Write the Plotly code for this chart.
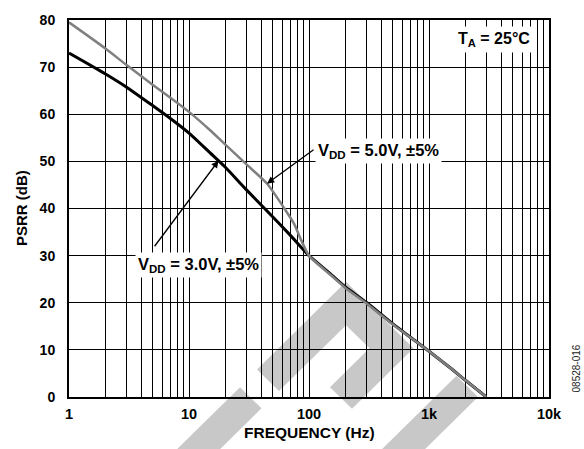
import numpy as np
import plotly.graph_objects as go

# ---------------- data ----------------
freq_3v = [1, 2, 3, 5, 7, 10, 15, 20, 30, 50, 70, 100, 150, 200, 300, 500, 1000, 1500, 2000, 3000]
psrr_3v = [73.0, 68.6, 65.8, 61.8, 59.1, 56.0, 51.8, 48.8, 44.0, 38.2, 34.3, 30.0, 26.2, 23.4, 20.1, 15.5, 9.7, 6.2, 3.6, 0.0]

freq_5v = [1, 2, 3, 5, 7, 10, 15, 20, 30, 45, 65, 75, 85, 100, 150, 200, 300, 500, 1000, 1500, 2000, 3000]
psrr_5v = [79.5, 74.0, 70.5, 66.2, 63.5, 60.5, 56.6, 53.6, 49.4, 45.2, 39.3, 36.8, 33.6, 30.0, 26.0, 23.2, 19.9, 15.4, 9.7, 6.2, 3.6, 0.0]

x_decades = [1, 10, 100, 1000, 10000]
x_decade_labels = ["1", "10", "100", "1k", "10k"]
y_ticks = [0, 10, 20, 30, 40, 50, 60, 70, 80]

label_5v = "V<sub>DD</sub> = 5.0V, ±5%"
label_3v = "V<sub>DD</sub> = 3.0V, ±5%"
label_temp = "T<sub>A</sub> = 25°C"
x_title = "FREQUENCY (Hz)"
y_title = "PSRR (dB)"
figure_id = "08528-016"
arrow_freq_5v = 44.7
arrow_freq_3v = 17.6

# ---------------- layout constants ----------------
W, H = 584, 449
L, T, PW, PH = 69, 14, 480, 383
R = W - L - PW
B = H - T - PH
FONT = "Liberation Sans, Arial, Helvetica, sans-serif"

# watermark polygons (pixel coords of the page)
WATERMARK_PX = [
    [(257, 369), (346, 280), (413.5, 347.5), (352, 409), (330, 387), (369.5, 347.5), (346, 324), (279, 391)],
    [(240, 387), (261.5, 408.5), (210, 460), (167, 460)],
    [(456.5, 375.5), (478, 397), (415, 460), (372, 460)],
]


def to_paper(px, py):
    return (px - L) / PW, (T + PH - py) / PH


def path_of(poly):
    pts = [to_paper(px, py) for px, py in poly]
    return "M " + " L ".join(f"{x:.4f},{y:.4f}" for x, y in pts) + " Z"


def bold(s):
    return f"<b>{s}</b>" if s else ""


# minor + major gridline positions on log axis
x_tickvals, x_ticktext = [], []
for d, lab in zip(x_decades, x_decade_labels):
    x_tickvals.append(d)
    x_ticktext.append(bold(lab))
    if d < x_decades[-1]:
        for m in range(2, 10):
            x_tickvals.append(d * m)
            x_ticktext.append("")

fig = go.Figure()
fig.add_trace(go.Scatter(x=freq_3v, y=psrr_3v, mode="lines",
                         line=dict(color="#000000", width=3, shape="spline", smoothing=0.6),
                         showlegend=False))
fig.add_trace(go.Scatter(x=freq_5v, y=psrr_5v, mode="lines",
                         line=dict(color="#808080", width=2.5, shape="spline", smoothing=0.6),
                         showlegend=False))

shapes = [dict(type="path", xref="paper", yref="paper", path=path_of(p),
               fillcolor="#c8c8c8", line=dict(width=0), layer="below")
          for p in WATERMARK_PX]


def y_on(freqs, vals, f):
    return float(np.interp(np.log10(f), np.log10(freqs), vals))


def label(px, py, text, **kw):
    x, y = to_paper(px, py)
    d = dict(x=x, y=y, xref="paper", yref="paper", xanchor="center", yanchor="middle",
             text=text, showarrow=False,
             font=dict(family=FONT, size=kw.pop("size", 14), color=kw.pop("color", "#000000")))
    d.update(kw)
    return d


annotations = [
    dict(x=np.log10(arrow_freq_5v), y=y_on(freq_5v, psrr_5v, arrow_freq_5v), xref="x", yref="y",
         text="", showarrow=True, ax=48, ay=-35, arrowhead=2, arrowsize=1.1,
         arrowwidth=1.3, arrowcolor="#000000", standoff=0),
    dict(x=np.log10(arrow_freq_3v), y=y_on(freq_3v, psrr_3v, arrow_freq_3v), xref="x", yref="y",
         text="", showarrow=True, ax=-65, ay=87, arrowhead=2, arrowsize=1.1,
         arrowwidth=1.3, arrowcolor="#000000", standoff=0),
    label(378, 147, bold(label_5v), bgcolor="#ffffff", borderpad=2, size=16.5),
    label(198, 263, bold(label_3v), bgcolor="#ffffff", borderpad=2, size=16.5),
    label(494, 34, bold(label_temp), bgcolor="#ffffff", borderpad=3, size=16),
    label(21, 205, bold(y_title), textangle=-90, size=15),
    label(309, 433, bold(x_title), size=15.5),
    label(576, 368, figure_id, textangle=-90, size=10, color="#222222"),
]

fig.update_layout(
    width=W, height=H, autosize=False,
    margin=dict(l=L, r=R, t=T, b=B, pad=0),
    paper_bgcolor="#ffffff", plot_bgcolor="rgba(0,0,0,0)",
    shapes=shapes, annotations=annotations,
    font=dict(family=FONT, size=14, color="#000000"),
    xaxis=dict(type="log", range=[0, 4], tickmode="array",
               tickvals=x_tickvals, ticktext=x_ticktext,
               showgrid=True, gridcolor="#000000", gridwidth=1,
               showline=True, linecolor="#000000", linewidth=2, mirror=True,
               ticks="", ticklabelstandoff=3, zeroline=False,
               tickfont=dict(family=FONT, size=14.5, color="#000000")),
    yaxis=dict(range=[0, 80], tickmode="array", tickvals=y_ticks,
               ticktext=[bold(str(v)) for v in y_ticks],
               showgrid=True, gridcolor="#000000", gridwidth=1,
               showline=True, linecolor="#000000", linewidth=2, mirror=True,
               ticks="", ticklabelstandoff=9, zeroline=False,
               tickfont=dict(family=FONT, size=14, color="#000000")),
)

fig.write_html("out.html")
